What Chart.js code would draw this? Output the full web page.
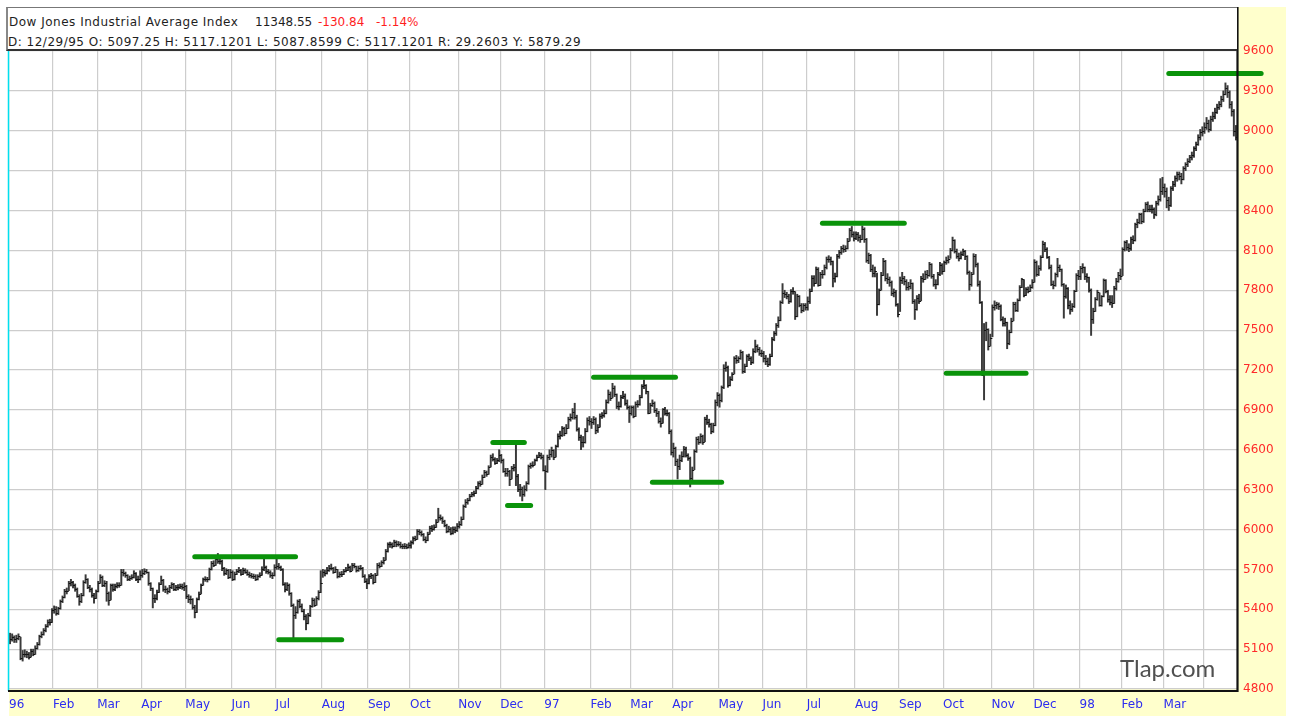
<!DOCTYPE html>
<html>
<head>
<meta charset="utf-8">
<title>Dow Jones Industrial Average Index</title>
<script src="https://cdn.jsdelivr.net/npm/chart.js@4.4.1/dist/chart.umd.min.js"></script>
<style>
  html, body { margin:0; padding:0; background:#fff; }
  #wrap { position:relative; width:1290px; height:721px; overflow:hidden; }
  #grafica { position:absolute; left:0; top:0; }
  #cabecera { position:absolute; left:6px; top:7px; width:1231px; height:44px; box-sizing:border-box;
              background:#fff; border-top:1px solid #777; border-left:2px solid #888; border-bottom:2px solid #333; }
  .txt { position:absolute; font-family:'DejaVu Sans', sans-serif; font-size:12px; line-height:14px;
         letter-spacing:0.5px; color:#1e1e1e; white-space:nowrap; }
  .num { letter-spacing:0; }
  .rojo { color:#ff1e1e; }
  #marca { position:absolute; left:1120px; top:653px; font-family:Lato, sans-serif; font-size:24px;
           line-height:29px; color:#505050; }
</style>
</head>
<body>
<div id="wrap">
  <canvas id="grafica" width="1290" height="721"></canvas>
  <div id="cabecera"></div>
  <div class="txt" style="left:9px; top:15px;">Dow Jones Industrial Average Index</div>
  <div class="txt num" style="left:255px; top:15px;">11348.55</div>
  <div class="txt num rojo" style="left:318px; top:15px;">-130.84</div>
  <div class="txt num rojo" style="left:376px; top:15px;">-1.14%</div>
  <div class="txt" style="left:8px; top:35px;">D: 12/29/95 O: 5097.25 H: 5117.1201 L: 5087.8599 C: 5117.1201 R: 29.2603 Y: 5879.29</div>
  <div id="marca">Tlap.com</div>
</div>
<script>
// meses del eje x (indice de la primera barra de cada mes)
var monthLabels = ['96','Feb','Mar','Apr','May','Jun','Jul','Aug','Sep','Oct','Nov','Dec',
                   '97','Feb','Mar','Apr','May','Jun','Jul','Aug','Sep','Oct','Nov','Dec',
                   '98','Feb','Mar',''];
var monthStart = [0,21,42,63,84,106,127,149,171,191,214,234,
                  255,277,296,316,338,359,380,403,424,445,468,488,
                  510,530,550,569];

// cierres diarios
var closes = [
  5177,5194,5173,5181,5197,5032,5065,5061,5062,5043,5088,5066,5112,5135,5197,5216,5242,5271,5304,5304,5395,
  5405,5373,5407,5459,5492,5540,5541,5600,5602,5579,5551,5503,5459,5509,5608,5630,5565,5549,5506,5485,5536,
  5600,5642,5581,5600,5520,5470,5581,5550,5573,5586,5584,5683,5669,5655,5628,5636,5641,5670,5626,5630,5660,
  5671,5689,5682,5594,5560,5485,5487,5532,5592,5620,5550,5551,5535,5564,5588,5553,5567,5568,5573,5569,5575,
  5498,5478,5474,5420,5380,5475,5518,5582,5624,5626,5624,5700,5748,5736,5778,5763,5762,5709,5673,5693,5643,5680,
  5624,5665,5687,5697,5667,5697,5682,5668,5657,5649,5652,5628,5648,5659,5705,5719,5688,5677,5655,5654,5720,
  5729,5720,5703,5588,5550,5582,5520,5430,5360,5376,5464,5426,5390,5346,5300,5354,5422,5473,5435,5482,5528,5595,
  5679,5674,5696,5711,5713,5681,5704,5647,5666,5666,5689,5699,5721,5690,5733,5722,5693,5711,5712,5647,5616,5600,
  5648,5656,5607,5659,5733,5727,5755,5771,5838,5889,5888,5877,5905,5888,5894,5874,5877,5873,5872,5882,
  5904,5933,5932,5992,5979,5966,5930,5922,5969,6010,6004,6020,6059,6094,6090,6061,6036,5992,6007,5972,6007,5993,6029,
  6041,6081,6177,6206,6219,6255,6266,6274,6313,6348,6346,6397,6430,6418,6472,6547,6528,6499,6521,6560,
  6522,6442,6423,6437,6381,6464,6473,6402,6304,6304,6268,6308,6347,6474,6485,6489,6522,6547,6560,6549,6448,
  6442,6544,6568,6600,6549,6625,6703,6709,6762,6726,6765,6833,6843,6883,6850,6755,6696,6660,6656,6740,6823,6813,
  6807,6833,6747,6773,6855,6858,6880,6961,7022,6988,7067,7020,6927,6931,6996,7008,6955,6925,6877,
  6918,6852,6945,6945,7000,7079,7085,7039,6878,6935,6955,6896,6877,6820,6804,6905,6875,6880,6740,6583,
  6611,6517,6477,6526,6555,6609,6563,6540,6391,6451,6587,6679,6659,6703,6660,6833,6812,6792,6738,6784,6962,7009,
  6976,7071,7214,7225,7085,7136,7169,7292,7274,7287,7333,7194,7228,7304,7290,7258,7345,7383,7357,7330,7331,
  7289,7269,7242,7305,7435,7478,7539,7575,7711,7782,7772,7760,7718,7796,7796,7604,7758,7689,7652,7687,7672,
  7722,7795,7895,7858,7962,7842,7921,7922,7976,8038,8038,8020,7890,7906,8061,8088,8116,8113,8121,8174,8254,8222,8194,
  8220,8198,8187,8259,8189,8031,8062,7960,7928,7942,7694,7803,7918,8021,7893,7887,7859,7782,7787,7694,7622,
  7879,7894,7867,7822,7835,7851,7719,7660,7742,7721,7895,7886,7922,7917,7996,7906,7849,7848,7922,7991,7945,
  8015,8027,8038,8100,8178,8095,8061,8045,8072,8096,8057,7938,7847,7921,8060,7995,7847,7715,7161,7498,7506,7381,7442,
  7674,7689,7693,7684,7581,7552,7558,7401,7487,7572,7698,7650,7724,7826,7881,7767,7809,7794,7823,7860,
  8013,7922,7968,8050,8149,8110,8049,7978,7848,7838,7922,7976,7957,7846,7756,7819,7691,7660,7679,7792,7915,7908,
  7965,7978,7906,7902,7802,7580,7647,7732,7784,7691,7753,7874,7794,7731,7712,7704,7815,7873,7915,7907,
  8107,8160,8129,8117,8189,8180,8295,8314,8370,8323,8399,8451,8413,8413,8410,8371,8457,8490,8545,8580,
  8550,8480,8440,8569,8600,8643,8675,8659,8640,8718,8749,8775,8803,8816,8870,8904,8950,8990,9000,
  9030,9060,9010,9090,9110,9140,9180,9200,9240,9280,9320,9290,9200,9150,9000,8950
];

var highs = [
  5220,5215,5200,5205,5215,5190,5090,5095,5085,5075,5100,5100,5125,5150,5205,5230,5255,5285,5320,5325,5405,
  5425,5420,5415,5470,5500,5550,5560,5610,5625,5610,5590,5560,5510,5520,5615,5660,5630,5580,5560,5520,5545,
  5610,5660,5650,5615,5610,5530,5590,5590,5590,5600,5600,5700,5700,5680,5660,5650,5660,5690,5675,5650,5690,
  5700,5705,5700,5680,5600,5560,5510,5545,5600,5650,5625,5575,5560,5580,5600,5595,5580,5585,5590,5590,5600,
  5580,5510,5500,5480,5430,5485,5530,5590,5635,5645,5640,5710,5760,5765,5800,5820,5785,5770,5715,5705,5700,5700,
  5690,5680,5700,5715,5700,5710,5705,5695,5680,5670,5665,5660,5660,5675,5720,5780,5725,5700,5690,5675,5735,
  5780,5745,5725,5705,5600,5600,5590,5525,5440,5420,5470,5475,5440,5400,5360,5370,5430,5485,5480,5495,5540,5690,
  5700,5695,5715,5730,5740,5715,5720,5700,5680,5685,5700,5715,5740,5725,5745,5745,5725,5725,5730,5715,5660,5630,
  5660,5670,5660,5670,5745,5750,5765,5790,5850,5900,5905,5900,5920,5915,5910,5905,5890,5895,5890,5900,
  5915,5945,5950,6000,6000,5990,5970,5945,5980,6025,6030,6035,6075,6160,6110,6095,6070,6040,6025,6015,6020,6020,6045,
  6060,6095,6185,6225,6235,6265,6280,6290,6325,6360,6365,6410,6445,6440,6480,6560,6570,6540,6535,6600,
  6565,6530,6460,6460,6445,6475,6490,6660,6415,6340,6320,6330,6360,6485,6500,6510,6530,6560,6580,6575,6560,
  6480,6560,6600,6620,6600,6635,6720,6740,6775,6770,6790,6845,6870,6910,6950,6860,6765,6710,6700,6760,6840,6850,
  6835,6850,6840,6790,6870,6880,6900,6975,7050,7035,7100,7080,7020,6960,7010,7040,7020,6975,6930,
  6930,6930,6960,6970,7010,7090,7125,7090,7040,6950,6975,6960,6910,6890,6840,6910,6920,6900,6880,6750,
  6650,6620,6530,6560,6585,6625,6620,6570,6545,6470,6600,6695,6700,6720,6710,6845,6860,6830,6800,6800,6975,7030,
  7020,7080,7240,7260,7230,7150,7180,7300,7310,7300,7350,7340,7245,7315,7320,7300,7360,7425,7390,7370,7350,
  7340,7310,7290,7320,7445,7490,7550,7600,7720,7850,7800,7785,7770,7805,7820,7790,7770,7760,7700,7700,7700,
  7750,7810,7910,7910,7975,7970,7935,7950,7990,8050,8060,8050,8020,7930,8070,8100,8130,8140,8135,8190,8265,8280,8240,
  8240,8235,8215,8285,8270,8190,8080,8070,7990,7975,7930,7810,7935,8040,8025,7925,7900,7870,7810,7800,7700,
  7900,7935,7905,7880,7860,7880,7855,7730,7760,7770,7905,7925,7945,7950,8010,8000,7920,7880,7935,8010,8000,
  8020,8050,8060,8115,8200,8180,8110,8080,8090,8110,8100,8060,7945,7935,8075,8070,8005,7870,7715,7550,7560,7510,7470,
  7690,7720,7710,7705,7690,7600,7590,7560,7500,7590,7710,7710,7735,7835,7890,7880,7820,7825,7840,7880,
  8030,8020,7985,8060,8170,8160,8120,8055,7990,7870,7930,8040,7990,7960,7850,7840,7820,7720,7700,7800,7925,7950,
  7980,8000,7975,7925,7900,7810,7665,7745,7800,7780,7760,7885,7880,7800,7760,7760,7830,7890,7935,7960,
  8120,8170,8175,8150,8200,8210,8305,8335,8380,8380,8410,8460,8465,8440,8440,8420,8470,8510,8640,8650,
  8600,8570,8500,8580,8620,8660,8690,8690,8680,8730,8760,8790,8815,8840,8880,8915,8970,9010,9030,
  9060,9100,9080,9110,9140,9170,9200,9220,9260,9300,9360,9340,9300,9220,9160,9040
];

var lows = [
  5140,5160,5150,5150,5170,5020,5010,5040,5035,5025,5040,5050,5060,5100,5130,5185,5205,5230,5265,5280,5300,
  5370,5355,5360,5400,5450,5485,5515,5540,5575,5560,5535,5490,5430,5450,5500,5595,5555,5530,5490,5445,5480,
  5530,5595,5570,5570,5460,5430,5470,5535,5540,5560,5565,5580,5650,5640,5615,5615,5625,5635,5615,5600,5620,
  5640,5660,5670,5580,5540,5410,5450,5470,5525,5585,5535,5525,5515,5525,5555,5540,5540,5545,5555,5550,5540,
  5480,5450,5440,5400,5335,5375,5470,5515,5580,5610,5605,5620,5695,5720,5730,5745,5740,5690,5655,5660,5630,5635,
  5615,5620,5660,5675,5655,5660,5670,5655,5640,5635,5630,5615,5620,5640,5655,5690,5670,5665,5640,5630,5650,
  5700,5700,5690,5580,5530,5540,5505,5420,5175,5330,5370,5410,5380,5320,5245,5290,5345,5415,5420,5430,5470,5525,
  5640,5650,5665,5685,5695,5670,5675,5635,5640,5645,5660,5680,5690,5680,5690,5710,5680,5685,5695,5640,5600,5555,
  5590,5630,5590,5600,5655,5710,5720,5740,5770,5830,5865,5860,5870,5870,5875,5860,5855,5855,5855,5860,
  5860,5890,5915,5925,5960,5950,5915,5900,5915,5965,5985,5995,6015,6055,6070,6045,6020,5975,5980,5960,5965,5975,5985,
  6010,6030,6075,6165,6190,6215,6245,6250,6270,6305,6325,6340,6390,6400,6415,6470,6515,6490,6495,6510,
  6500,6430,6400,6400,6330,6380,6440,6330,6285,6250,6215,6250,6290,6340,6460,6470,6485,6515,6540,6530,6440,
  6300,6430,6525,6545,6525,6545,6620,6680,6700,6705,6720,6760,6815,6830,6830,6740,6670,6600,6620,6650,6735,6785,
  6760,6790,6720,6730,6770,6835,6845,6870,6950,6970,6990,7000,6910,6900,6920,6985,6935,6905,6805,
  6860,6840,6850,6920,6935,6990,7060,7020,6870,6875,6925,6880,6850,6800,6770,6800,6860,6855,6720,6560,
  6545,6480,6380,6450,6510,6545,6545,6520,6320,6370,6450,6580,6640,6650,6640,6660,6790,6770,6720,6730,6780,6930,
  6920,6960,7060,7190,7070,7080,7120,7170,7250,7255,7280,7175,7180,7225,7270,7240,7250,7330,7335,7310,7300,
  7260,7240,7225,7235,7300,7420,7460,7520,7570,7700,7745,7735,7700,7710,7770,7580,7600,7675,7630,7640,7650,
  7650,7700,7790,7830,7850,7830,7835,7890,7915,7960,8010,7990,7825,7860,7900,8040,8070,8085,8090,8110,8170,8200,8170,
  8180,8170,8160,8180,8160,8010,8000,7940,7900,7900,7610,7690,7800,7910,7870,7850,7830,7760,7750,7680,7600,
  7640,7850,7840,7800,7800,7810,7700,7580,7650,7700,7720,7860,7880,7890,7905,7890,7830,7810,7840,7910,7920,
  7940,7995,8005,8040,8095,8080,8040,8020,8035,8060,8030,7920,7800,7830,7920,7975,7830,7700,7160,6975,7420,7350,7380,
  7450,7650,7660,7655,7570,7530,7530,7360,7390,7480,7570,7640,7640,7720,7820,7750,7760,7780,7790,7815,
  7860,7905,7910,7950,8045,8090,8040,7960,7835,7810,7830,7900,7940,7830,7590,7740,7660,7620,7640,7670,7790,7880,
  7880,7930,7880,7860,7785,7460,7550,7640,7725,7680,7680,7750,7780,7710,7690,7670,7700,7800,7860,7880,
  7910,8095,8100,8090,8100,8150,8170,8270,8300,8300,8310,8390,8390,8390,8380,8340,8360,8440,8470,8520,
  8500,8420,8400,8430,8550,8580,8620,8630,8600,8630,8700,8730,8760,8780,8800,8850,8890,8930,8960,
  8980,9010,8990,9000,9070,9090,9130,9160,9180,9220,9270,9250,9170,9110,8960,8930
];

// lineas verdes de soporte / resistencia (indice inicio, indice fin, nivel)
var levelFrom  = [88, 128, 230, 237, 278, 306, 387, 446, 552];
var levelTo    = [136, 158, 245, 248, 317, 339, 426, 484, 596];
var levelValue = [5795, 5170, 6655, 6180, 7145, 6355, 8305, 7175, 9430];

var barras = [];
for (var i = 0; i < closes.length; i++) {
    barras.push({ x: i, y: [lows[i], highs[i]] });
}

// fondo blanco y margen amarillo
var fondo = {
    id: 'fondo',
    beforeDraw: function (chart) {
        var c = chart.ctx, a = chart.chartArea;
        c.save();
        c.fillStyle = '#ffffff';
        c.fillRect(0, 0, chart.width, chart.height);
        c.fillStyle = '#ffffcc';
        c.fillRect(a.right, 7, 1286 - a.right, 709);
        c.fillRect(a.left, a.bottom, 1286 - a.left, 716 - a.bottom);
        c.restore();
    }
};

// marcas de cierre a la derecha de cada barra
var cierres = {
    id: 'cierres',
    afterDatasetsDraw: function (chart) {
        var c = chart.ctx, xs = chart.scales.x, ys = chart.scales.y;
        c.save();
        c.strokeStyle = '#111111';
        c.lineWidth = 1;
        c.beginPath();
        for (var i = 0; i < closes.length; i++) {
            var x = xs.getPixelForValue(i);
            var y = Math.round(ys.getPixelForValue(closes[i])) + 0.5;
            c.moveTo(x, y);
            c.lineTo(x + 2, y);
        }
        c.stroke();
        c.restore();
    }
};

// lineas verdes y marco
var niveles = {
    id: 'niveles',
    afterDraw: function (chart) {
        var c = chart.ctx, a = chart.chartArea, xs = chart.scales.x, ys = chart.scales.y;
        c.save();
        c.strokeStyle = '#0a930a';
        c.lineWidth = 5;
        c.lineCap = 'round';
        for (var k = 0; k < levelValue.length; k++) {
            var y = ys.getPixelForValue(levelValue[k]);
            c.beginPath();
            c.moveTo(xs.getPixelForValue(levelFrom[k]), y);
            c.lineTo(xs.getPixelForValue(levelTo[k]), y);
            c.stroke();
        }
        c.lineCap = 'butt';
        // borde izquierdo cian
        c.strokeStyle = '#00e0ee';
        c.lineWidth = 1.5;
        c.beginPath();
        c.moveTo(a.left - 0.5, a.top);
        c.lineTo(a.left - 0.5, a.bottom + 2);
        c.stroke();
        // ejes negros
        c.strokeStyle = '#111';
        c.lineWidth = 2.2;
        c.beginPath();
        c.moveTo(a.left - 1, a.bottom + 2);
        c.lineTo(a.right + 1.5, a.bottom + 2);
        c.moveTo(a.right + 0.5, 7);
        c.lineTo(a.right + 0.5, a.bottom + 3);
        c.stroke();
        c.restore();
    }
};

var ctx = document.getElementById('grafica').getContext('2d');
new Chart(ctx, {
    type: 'bar',
    data: {
        datasets: [{
            data: barras,
            backgroundColor: '#3a3a3a',
            borderWidth: 0,
            barThickness: 1.3,
            grouped: false
        }]
    },
    options: {
        responsive: false,
        devicePixelRatio: 1,
        animation: false,
        layout: { padding: { left: 7, top: 51, right: 0, bottom: 0 } },
        plugins: { legend: { display: false }, tooltip: { enabled: false } },
        scales: {
            x: {
                type: 'linear',
                min: -0.5,
                max: closes.length - 0.5,
                offset: false,
                grid: { color: '#cdcdcd', lineWidth: 1.2, drawTicks: false, offset: false },
                border: { display: false },
                afterBuildTicks: function (s) {
                    s.ticks = monthStart.map(function (v) { return { value: v - 0.5 }; });
                },
                afterFit: function (s) { s.height = 32; },
                ticks: {
                    autoSkip: false, maxRotation: 0, minRotation: 0, align: 'start', padding: 9,
                    color: '#2c2cf0', font: { family: 'DejaVu Sans', size: 12 },
                    callback: function (v, i) { return monthLabels[i]; }
                }
            },
            y: {
                position: 'right',
                min: 4800,
                max: 9600,
                grid: { color: '#cdcdcd', lineWidth: 1.2, drawTicks: false },
                border: { display: false },
                afterFit: function (s) { s.width = 53; },
                ticks: {
                    stepSize: 300, padding: 6,
                    color: '#ff2a2a', font: { family: 'DejaVu Sans', size: 12 },
                    callback: function (v) { return String(v); }
                }
            }
        }
    },
    plugins: [fondo, cierres, niveles]
});
</script>
</body>
</html>
